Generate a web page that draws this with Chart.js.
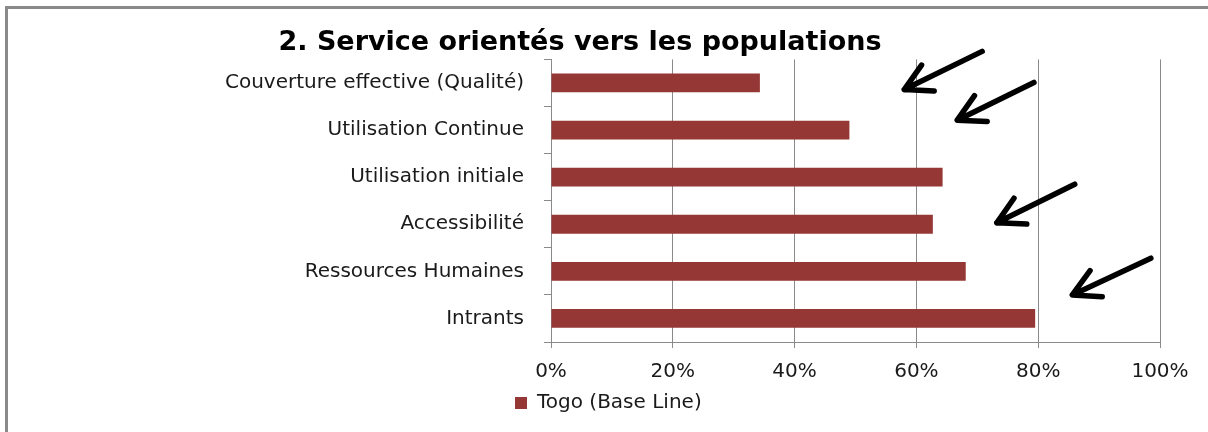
<!DOCTYPE html>
<html>
<head>
<meta charset="utf-8">
<script src="https://cdn.jsdelivr.net/npm/chart.js@4"></script>
<style>
  body { margin: 0; background: #fff; }
  #wrap { position: relative; width: 1208px; height: 432px; }
  #frame { position: absolute; left: 5px; top: 6px; right: 0; bottom: 0;
           border-top: 3px solid #8a8a8a; border-left: 3px solid #8a8a8a; pointer-events: none; }
</style>
</head>
<body>
<div id="wrap">
  <canvas id="myChart" width="1208" height="432"></canvas>
  <div id="frame"></div>
</div>
<script>
const categories = ['Couverture effective (Qualité)', 'Utilisation Continue', 'Utilisation initiale', 'Accessibilité', 'Ressources Humaines', 'Intrants'];
const togoValues = [34.3, 49.0, 64.3, 62.7, 68.1, 79.5];
const seriesName = 'Togo (Base Line)';
const tickValues = [0, 20, 40, 60, 80, 100];

// arrows drawn on top, given in data space: [x %, category index]
const arrows = [
  { from: [70.8, -0.67], to: [58.0, 0.14] },
  { from: [79.3, -0.01], to: [66.7, 0.79] },
  { from: [86.0, 2.15], to: [73.2, 2.97] },
  { from: [98.5, 3.72], to: [85.6, 4.50] },
];

const arrowPlugin = {
  id: 'arrows',
  afterDraw(chart) {
    const c = chart.ctx, xs = chart.scales.x, ys = chart.scales.y;
    c.save();
    c.strokeStyle = '#000';
    c.lineWidth = 5.5;
    c.lineCap = 'round';
    c.lineJoin = 'round';
    arrows.forEach(a => {
      const x1 = xs.getPixelForValue(a.from[0]), y1 = ys.getPixelForValue(a.from[1]);
      const x2 = xs.getPixelForValue(a.to[0]), y2 = ys.getPixelForValue(a.to[1]);
      const ang = Math.atan2(y1 - y2, x1 - x2);
      const len = 30, spread = 0.5;
      c.beginPath();
      c.moveTo(x1, y1);
      c.lineTo(x2, y2);
      c.moveTo(x2 + len * Math.cos(ang - spread), y2 + len * Math.sin(ang - spread));
      c.lineTo(x2, y2);
      c.lineTo(x2 + len * Math.cos(ang + spread), y2 + len * Math.sin(ang + spread));
      c.stroke();
    });
    c.restore();
  }
};

// move the legend to where the original sits
const legendPlace = {
  id: 'legendPlace',
  afterLayout(chart) {
    chart.legend.left = 505;
    chart.legend.top = 383;
  }
};

const ctx = document.getElementById('myChart');

new Chart(ctx, {
  type: 'bar',
  data: {
    labels: categories,
    datasets: [{
      label: seriesName,
      data: togoValues,
      backgroundColor: '#953735',
      borderWidth: 0,
      categoryPercentage: 0.8,
      barPercentage: 0.5,
    }]
  },
  options: {
    indexAxis: 'y',
    responsive: false,
    animation: false,
    layout: { padding: { left: 0, right: 48, top: 0, bottom: 0 } },
    plugins: {
      title: {
        display: true,
        text: '2. Service orientés vers les populations',
        color: '#000',
        font: { family: 'DejaVu Sans', size: 27, weight: 'bold' },
        padding: { top: 27, bottom: 0 },
      },
      legend: {
        position: 'bottom',
        align: 'start',
        labels: {
          boxWidth: 12,
          boxHeight: 12,
          color: '#1a1a1a',
          font: { family: 'DejaVu Sans', size: 20 },
        },
      },
      tooltip: { enabled: false },
    },
    scales: {
      x: {
        min: 0,
        max: 100,
        afterBuildTicks(scale) {
          scale.ticks = tickValues.map(v => ({ value: v }));
        },
        afterFit(scale) {
          scale.height = 432 - 342 - scale.chart.legend.height;
        },
        ticks: {
          color: '#1a1a1a',
          padding: 12,
          font: { family: 'DejaVu Sans', size: 20 },
          callback: v => v + '%',
        },
        grid: { color: '#8a8a8a', tickLength: 6 },
        border: { color: '#8a8a8a' },
      },
      y: {
        afterFit(scale) {
          scale.width = 551;
        },
        ticks: {
          color: '#1a1a1a',
          padding: 20,
          font: { family: 'DejaVu Sans', size: 20 },
        },
        grid: { drawOnChartArea: false, color: '#8a8a8a', tickLength: 7, offset: true },
        border: { color: '#8a8a8a' },
      },
    },
  },
  plugins: [arrowPlugin, legendPlace],
});
</script>
</body>
</html>
